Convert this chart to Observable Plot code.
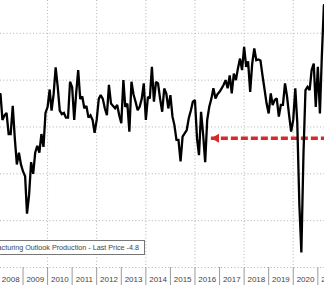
<!DOCTYPE html>
<html>
<head>
<meta charset="utf-8">
<script src="https://cdn.jsdelivr.net/npm/d3@7"></script>
<script src="https://cdn.jsdelivr.net/npm/@observablehq/plot@0.6"></script>
<style>
  html, body { margin: 0; padding: 0; background: #fff; }
  #wrap { position: relative; width: 324px; height: 285px; overflow: hidden; }
  #wrap svg { position: absolute; left: 0; top: 0; }
  #legend {
    position: absolute; left: -80px; top: 240px; width: 225px; height: 15px;
    box-sizing: border-box; border: 1px solid #777; background: #fff;
    font: 7.2px "Liberation Sans", Arial, sans-serif; color: #444;
    text-align: right; line-height: 13px; padding-right: 5px; white-space: nowrap;
  }
</style>
</head>
<body>
<div id="wrap"></div>
<script>
// Monthly production index readings, Jan..Dec of each year
const prod2008 = [14, 3, 5, 6, -3, -3, 9, -5, -16, -11, -16, -19];
const prod2009 = [-21, -37, -29, -15, -20, -11, -8, -11, -3, -8.5, 6, 8.5];
const prod2010 = [16, 7, 14, 25.5, 17, 7, 5.5, 6, 4, 4, 19.3, 17];
const prod2011 = [3, 14, 24.3, 12, 13, 8, 9, 4, 5, 3, -2.5, 3];
const prod2012 = [12, 13.6, 12, 8, 5, 18, 10, 9, 8, 9.4, 5, 1.6];
const prod2013 = [20, 8.6, 10, -2, 19.3, 14, 10.8, 7.2, 8.6, 12, 18.6, 3];
const prod2014 = [12.9, 12.2, 25.7, 10.8, 19.3, 18.6, 12, 6.5, 16.4, 14.3, 7.9, 13.6];
const prod2015 = [4.4, 0.9, -5.5, -5.5, -14.7, -4.1, -2.7, -1.3, 3.7, 7, 10.8, 11.5];
const prod2016 = [-5, -12, 6.5, -3, -15, 3, 8.6, 12, 16.5, 12.2, 14, 15];
const prod2017 = [16.5, 17.9, 20, 16.5, 22, 14.3, 22.8, 20, 25, 29.2, 24.3, 34.2];
const prod2018 = [25.7, 28, 15, 27, 33.5, 28.5, 28.8, 28.4, 22, 16, 10, 5.8];
const prod2019 = [14.3, 9.4, 11.5, 12.2, 4.4, 9.4, 9.4, 18.6, 13, 5, -2, 3];
const prod2020 = [16.5, 2, -33, -53.6, -12, 15.7, 17.1, 15.7, 24.3, 27.1, 8.6, 25.7];
const prod2021 = [5.8, 29.9, 52];

const years = [2008, 2009, 2010, 2011, 2012, 2013, 2014, 2015, 2016, 2017, 2018, 2019, 2020, 2021];
const seriesByYear = [prod2008, prod2009, prod2010, prod2011, prod2012, prod2013, prod2014,
                      prod2015, prod2016, prod2017, prod2018, prod2019, prod2020, prod2021];
const gridValues = [40, 20, 0, -20, -40, -60];
const gridYears = [2010, 2012, 2014, 2016, 2018, 2020];
const seriesName = "Dallas Fed Manufacturing Outlook Production";
const lastPrice = -4.8;
const arrowFrom = [2016, 8];   // year, month index of arrow tip
const arrowTo = [2021, 11];    // arrow tail (off to the right)

// Build table: each monthly reading plotted at its month end
const data = [];
seriesByYear.forEach((vals, i) => vals.forEach((v, m) => {
  data.push({ date: new Date(years[i], m + 1, 1), value: v });
}));
const annotations = [{
  level: lastPrice,
  tip: new Date(arrowFrom[0], arrowFrom[1], 1),
  tail: new Date(arrowTo[0], arrowTo[1], 1)
}];

const red = "#d8282c";
const font = "'Liberation Sans', Arial, sans-serif";

const chart = Plot.plot({
  width: 324,
  height: 285,
  marginTop: 0,
  marginRight: 0,
  marginLeft: 0,
  marginBottom: 18,
  style: { background: "#fff", fontFamily: font },
  x: { type: "time", domain: [new Date(2008, 1, 1), new Date(2021, 3, 10)], axis: null },
  y: { domain: [-60, 54], axis: null },
  marks: [
    Plot.gridY(gridValues, { stroke: "#b0b0b0", strokeOpacity: 1, strokeDasharray: "1,2.3" }),
    Plot.gridX(gridYears.map(y => new Date(y, 0, 1)), { stroke: "#b0b0b0", strokeOpacity: 1, strokeDasharray: "1,2.3" }),
    Plot.axisX(years.slice(1).map(y => new Date(y, 0, 1)), {
      tickSize: 18, tickFormat: () => "", stroke: "#9a9a9a", strokeOpacity: 1
    }),
    Plot.text(years, {
      x: d => new Date(d, 6, 2), text: d => String(d),
      frameAnchor: "bottom", dy: 14, fontSize: 8, fill: "#444", fontFamily: font
    }),
    Plot.ruleY(annotations, {
      y: "level", x1: "tip", x2: "tail",
      stroke: red, strokeWidth: 3.5, strokeDasharray: "7,3"
    }),
    Plot.dot(annotations, {
      x: "tip", y: "level", symbol: "triangle", r: 3.4, rotate: -90,
      fill: red, stroke: null, dx: 5
    }),
    Plot.line(data, { x: "date", y: "value", stroke: "#000", strokeWidth: 2.3, curve: "linear", strokeLinejoin: "miter", strokeMiterlimit: 2 })
  ]
});

const wrap = document.getElementById("wrap");
wrap.appendChild(chart);
const legend = document.createElement("div");
legend.id = "legend";
legend.textContent = `${seriesName} - Last Price ${lastPrice}`;
wrap.appendChild(legend);
</script>
</body>
</html>
